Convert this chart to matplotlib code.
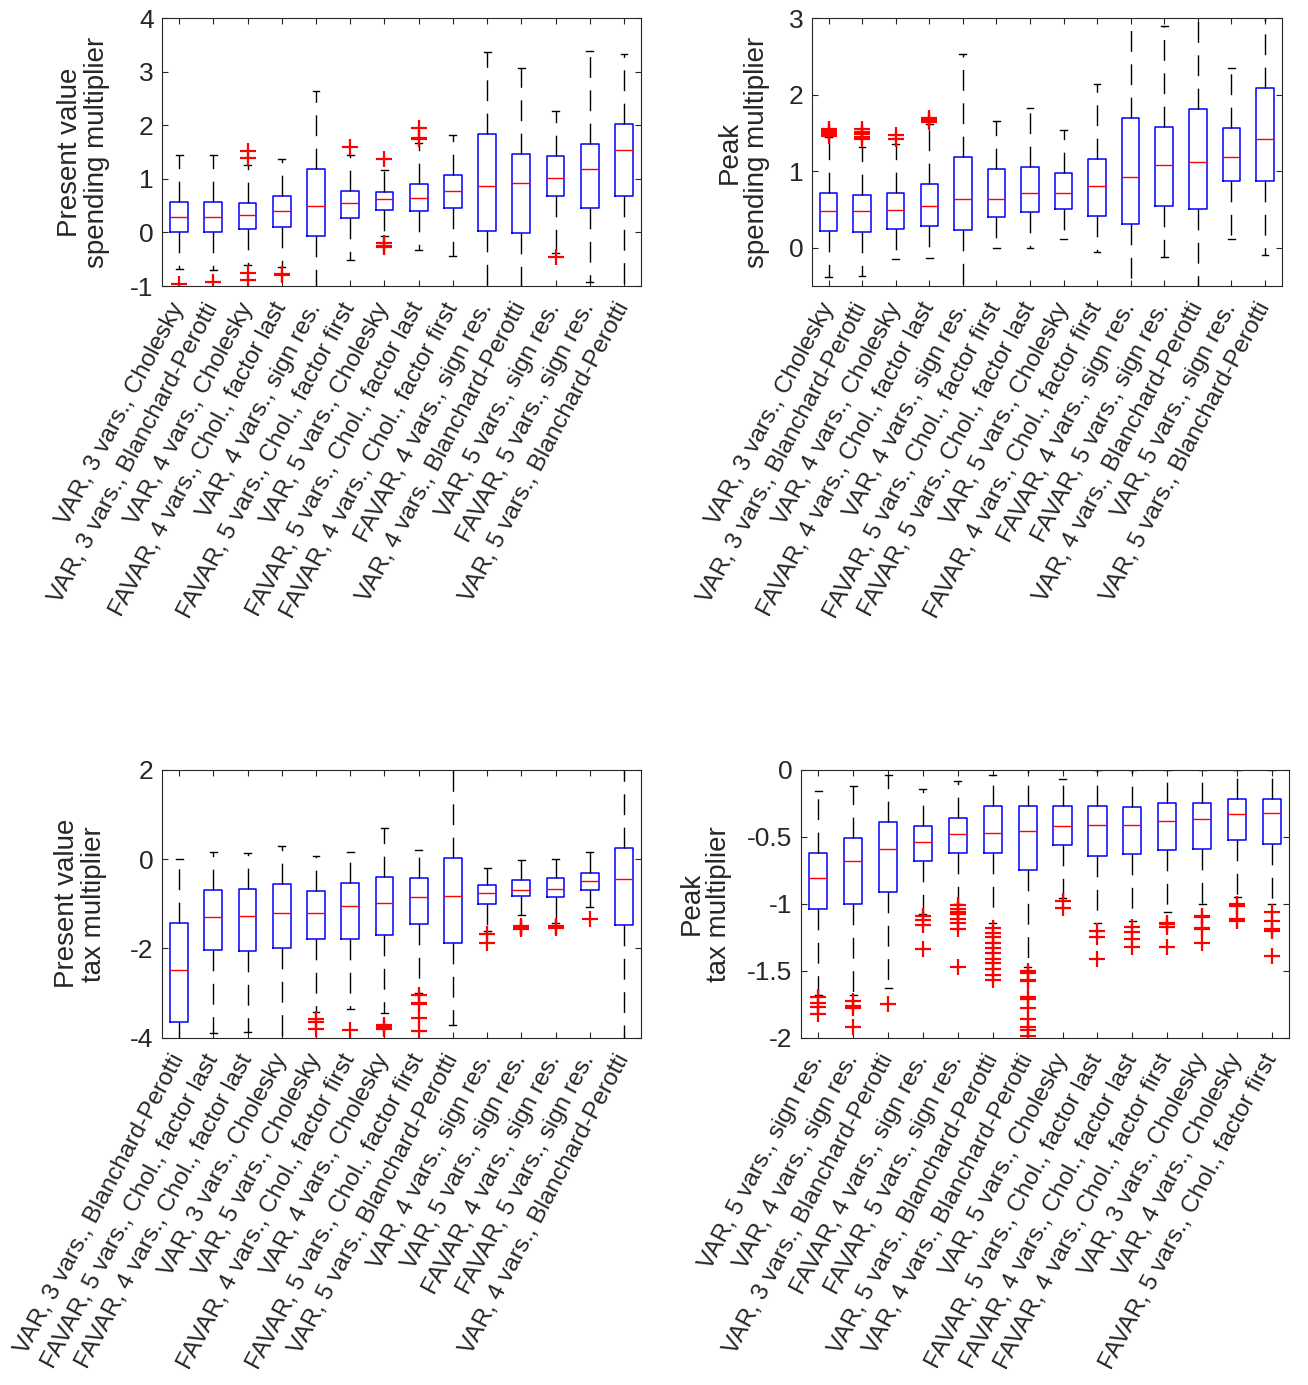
import matplotlib
matplotlib.use("Agg")
import matplotlib.pyplot as plt

plt.rcParams['font.family'] = ['Liberation Sans', 'DejaVu Sans']

# Present value spending multiplier
pvs_labels = ["VAR, 3 vars., Cholesky", "VAR, 3 vars., Blanchard-Perotti", "VAR, 4 vars., Cholesky",
              "FAVAR, 4 vars., Chol., factor last", "VAR, 4 vars., sign res.", "FAVAR, 5 vars., Chol., factor first",
              "VAR, 5 vars., Cholesky", "FAVAR, 5 vars., Chol., factor last", "FAVAR, 4 vars., Chol., factor first",
              "FAVAR, 4 vars., sign res.", "VAR, 4 vars., Blanchard-Perotti", "VAR, 5 vars., sign res.",
              "FAVAR, 5 vars., sign res.", "VAR, 5 vars., Blanchard-Perotti"]
pvs_med = [0.29, 0.29, 0.33, 0.39, 0.49, 0.55, 0.63, 0.65, 0.78, 0.87, 0.92, 1.01, 1.19, 1.54]
pvs_q1 = [0.0, 0.0, 0.07, 0.11, -0.06, 0.26, 0.42, 0.40, 0.45, 0.02, -0.01, 0.68, 0.45, 0.68]
pvs_q3 = [0.57, 0.57, 0.55, 0.68, 1.19, 0.78, 0.76, 0.91, 1.08, 1.83, 1.46, 1.43, 1.64, 2.03]
pvs_lo = [-0.69, -0.70, -0.60, -0.65, -1.4, -0.52, -0.07, -0.33, -0.44, -1.3, -1.4, -0.39, -0.93, -1.2]
pvs_hi = [1.44, 1.44, 1.26, 1.37, 2.64, 1.44, 1.16, 1.66, 1.81, 3.36, 3.07, 2.27, 3.39, 3.33]
pvs_out = [[-0.97], [-0.92], [1.52, 1.38, -0.75, -0.88], [-0.78, -0.80], [], [1.59],
           [1.37, -0.19, -0.25, -0.28], [1.94, 1.77, 1.74], [], [], [], [-0.45], [], []]

# Peak spending multiplier
pks_labels = ["VAR, 3 vars., Cholesky", "VAR, 3 vars., Blanchard-Perotti", "VAR, 4 vars., Cholesky",
              "FAVAR, 4 vars., Chol., factor last", "VAR, 4 vars., sign res.", "FAVAR, 5 vars., Chol., factor first",
              "FAVAR, 5 vars., Chol., factor last", "VAR, 5 vars., Cholesky", "FAVAR, 4 vars., Chol., factor first",
              "FAVAR, 4 vars., sign res.", "FAVAR, 5 vars., sign res.", "VAR, 4 vars., Blanchard-Perotti",
              "VAR, 5 vars., sign res.", "VAR, 5 vars., Blanchard-Perotti"]
pks_med = [0.48, 0.48, 0.49, 0.55, 0.63, 0.64, 0.71, 0.72, 0.80, 0.93, 1.08, 1.12, 1.19, 1.42]
pks_q1 = [0.22, 0.21, 0.25, 0.29, 0.23, 0.40, 0.46, 0.51, 0.42, 0.31, 0.55, 0.51, 0.87, 0.87]
pks_q3 = [0.71, 0.69, 0.71, 0.83, 1.19, 1.03, 1.05, 0.98, 1.16, 1.70, 1.58, 1.81, 1.56, 2.09]
pks_lo = [-0.38, -0.37, -0.15, -0.14, -0.8, -0.01, 0.0, 0.11, -0.05, -0.8, -0.12, -0.7, 0.12, -0.09]
pks_hi = [1.44, 1.32, 1.36, 1.61, 2.53, 1.66, 1.82, 1.54, 2.14, 3.3, 2.89, 3.4, 2.35, 3.1]
pks_out = [[1.46, 1.49, 1.51, 1.53, 1.55], [1.42, 1.45, 1.48, 1.51, 1.55], [1.42, 1.47],
           [1.64, 1.67, 1.70], [], [], [], [], [], [], [], [], [], []]

# Present value tax multiplier
pvt_labels = ["VAR, 3 vars., Blanchard-Perotti", "FAVAR, 5 vars., Chol., factor last",
              "FAVAR, 4 vars., Chol., factor last", "VAR, 3 vars., Cholesky", "VAR, 5 vars., Cholesky",
              "FAVAR, 4 vars., Chol., factor first", "VAR, 4 vars., Cholesky", "FAVAR, 5 vars., Chol., factor first",
              "VAR, 5 vars., Blanchard-Perotti", "VAR, 4 vars., sign res.", "VAR, 5 vars., sign res.",
              "FAVAR, 4 vars., sign res.", "FAVAR, 5 vars., sign res.", "VAR, 4 vars., Blanchard-Perotti"]
pvt_med = [-2.49, -1.29, -1.27, -1.20, -1.20, -1.05, -0.98, -0.84, -0.83, -0.75, -0.69, -0.66, -0.49, -0.44]
pvt_q1 = [-3.66, -2.03, -2.05, -2.0, -1.80, -1.79, -1.70, -1.46, -1.88, -1.0, -0.83, -0.85, -0.68, -1.47]
pvt_q3 = [-1.43, -0.69, -0.67, -0.55, -0.72, -0.53, -0.39, -0.43, 0.03, -0.59, -0.47, -0.43, -0.31, 0.25]
pvt_lo = [-4.5, -3.89, -3.87, -4.4, -3.42, -3.35, -3.45, -2.99, -3.72, -1.61, -1.26, -1.44, -1.07, -4.5]
pvt_hi = [0.0, 0.16, 0.13, 0.30, 0.07, 0.16, 0.69, 0.20, 2.3, -0.19, -0.01, 0.01, 0.16, 2.4]
pvt_out = [[], [], [], [], [-3.59, -3.65, -3.80], [-3.82], [-3.72, -3.76, -3.80],
           [-3.04, -3.23, -3.25, -3.56, -3.84], [], [-1.67, -1.88],
           [-1.50, -1.52, -1.55, -1.57], [-1.50, -1.52, -1.54], [-1.35], []]

# Peak tax multiplier
pkt_labels = ["VAR, 5 vars., sign res.", "VAR, 4 vars., sign res.", "VAR, 3 vars., Blanchard-Perotti",
              "FAVAR, 4 vars., sign res.", "FAVAR, 5 vars., sign res.", "VAR, 5 vars., Blanchard-Perotti",
              "VAR, 4 vars., Blanchard-Perotti", "VAR, 5 vars., Cholesky", "FAVAR, 5 vars., Chol., factor last",
              "FAVAR, 4 vars., Chol., factor last", "FAVAR, 4 vars., Chol., factor first", "VAR, 3 vars., Cholesky",
              "VAR, 4 vars., Cholesky", "FAVAR, 5 vars., Chol., factor first"]
pkt_med = [-0.81, -0.68, -0.59, -0.54, -0.48, -0.47, -0.46, -0.42, -0.41, -0.41, -0.38, -0.37, -0.33, -0.32]
pkt_q1 = [-1.04, -1.0, -0.91, -0.68, -0.62, -0.62, -0.75, -0.56, -0.64, -0.63, -0.60, -0.59, -0.52, -0.55]
pkt_q3 = [-0.62, -0.51, -0.39, -0.42, -0.36, -0.27, -0.27, -0.27, -0.27, -0.28, -0.25, -0.25, -0.22, -0.22]
pkt_lo = [-1.68, -1.68, -1.63, -1.08, -1.0, -1.14, -1.47, -0.96, -1.14, -1.13, -1.06, -1.0, -0.95, -1.0]
pkt_hi = [-0.16, -0.12, -0.04, -0.14, -0.08, -0.04, 0.03, -0.07, 0.0, 0.0, 0.0, 0.0, 0.0, 0.0]
pkt_out = [[-1.70, -1.74, -1.77, -1.82], [-1.73, -1.76, -1.78, -1.92], [-1.75],
           [-1.09, -1.12, -1.16, -1.34], [-1.01, -1.04, -1.06, -1.08, -1.11, -1.14, -1.19, -1.47],
           [-1.18, -1.22, -1.25, -1.29, -1.33, -1.37, -1.41, -1.44, -1.49, -1.53, -1.57],
           [-1.50, -1.52, -1.57, -1.58, -1.70, -1.71, -1.78, -1.86, -1.92, -1.94, -1.99],
           [-0.98, -1.03], [-1.20, -1.25, -1.41], [-1.17, -1.21, -1.26, -1.32],
           [-1.14, -1.15, -1.17, -1.32], [-1.09, -1.10, -1.18, -1.19, -1.29],
           [-1.0, -1.02, -1.11, -1.13], [-1.06, -1.13, -1.19, -1.20, -1.39]]

dark = '#262626'


def draw(ax, labels, med, q1, q3, lo, hi, out, ylim, yticks, ylabel, lab_x):
    stats = []
    for i in range(len(labels)):
        stats.append(dict(med=med[i], q1=q1[i], q3=q3[i], whislo=lo[i], whishi=hi[i], fliers=out[i]))
    ax.bxp(stats, widths=0.52, capwidths=0.2, showfliers=True,
           boxprops=dict(color='blue', lw=1.1),
           medianprops=dict(color='red', lw=1.0),
           whiskerprops=dict(color='black', lw=1.0, linestyle=(0, (15, 9))),
           capprops=dict(color='black', lw=1.0),
           flierprops=dict(marker='+', markeredgecolor='red', markersize=11, markeredgewidth=1.6, linestyle='none'))
    ax.set_xlim(0.5, len(labels) + 0.5)
    ax.set_ylim(*ylim)
    ax.set_yticks(yticks)
    ax.set_yticklabels([f'{t:g}' for t in yticks])
    ax.set_xticks(range(1, len(labels) + 1))
    ax.set_xticklabels(labels, rotation=62, ha='right', va='center', rotation_mode='anchor', fontsize=17.6)
    ax.tick_params(direction='in', top=True, right=True, length=4, width=0.8, colors=dark)
    ax.tick_params(axis='y', labelsize=19, pad=6)
    ax.tick_params(axis='x', pad=13)
    for s in ax.spines.values():
        s.set_color(dark)
        s.set_linewidth(0.8)
    ax.set_ylabel(ylabel, fontsize=20, va='center', ha='center', color=dark, linespacing=1.05)
    ax.yaxis.set_label_coords(lab_x, 0.5)


fig = plt.figure(figsize=(13.08, 13.85), dpi=100)
ax1 = fig.add_axes([0.1239, 0.7935, 0.3662, 0.1935])
ax2 = fig.add_axes([0.6206, 0.7935, 0.3593, 0.1935])
ax3 = fig.add_axes([0.1239, 0.2508, 0.3662, 0.1933])
ax4 = fig.add_axes([0.6122, 0.2508, 0.3736, 0.1933])

draw(ax1, pvs_labels, pvs_med, pvs_q1, pvs_q3, pvs_lo, pvs_hi, pvs_out,
     (-1, 4), [-1, 0, 1, 2, 3, 4], "Present value\nspending multiplier", -0.165)
draw(ax2, pks_labels, pks_med, pks_q1, pks_q3, pks_lo, pks_hi, pks_out,
     (-0.5, 3), [0, 1, 2, 3], "Peak\nspending multiplier", -0.145)
draw(ax3, pvt_labels, pvt_med, pvt_q1, pvt_q3, pvt_lo, pvt_hi, pvt_out,
     (-4, 2), [-4, -2, 0, 2], "Present value\ntax multiplier", -0.17)
draw(ax4, pkt_labels, pkt_med, pkt_q1, pkt_q3, pkt_lo, pkt_hi, pkt_out,
     (-2, 0), [-2, -1.5, -1, -0.5, 0], "Peak\ntax multiplier", -0.195)

fig.savefig('out.png', dpi=100)
